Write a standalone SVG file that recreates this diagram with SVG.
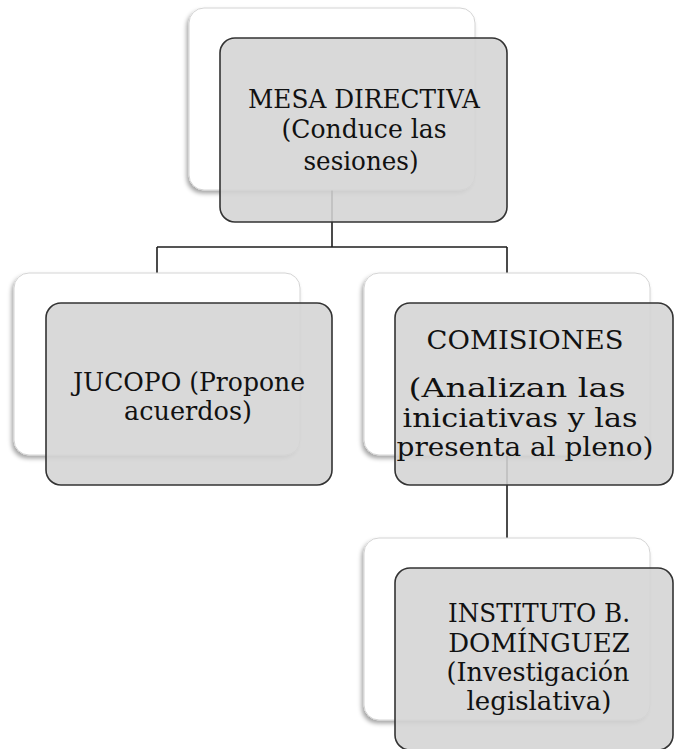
<svg xmlns="http://www.w3.org/2000/svg" width="674" height="749" viewBox="0 0 674 749">
<style>
.back{fill:#ffffff;stroke:#d4d4d4;stroke-width:1;filter:url(#sh)}
.front{fill:#d4d4d4;fill-opacity:0.88;stroke:#333333;stroke-width:1.6}
.t{font-family:"DejaVu Serif","Liberation Serif",serif;font-size:26px;fill:#111111;text-anchor:middle}
.c{fill:none;stroke:#1e1e1e;stroke-width:1.6}
</style>
<defs>
<filter id="sh" x="-10%" y="-10%" width="120%" height="125%">
<feDropShadow dx="-2" dy="3" stdDeviation="2" flood-color="#000" flood-opacity="0.35"/>
</filter>
</defs>
<rect width="674" height="749" fill="#ffffff"/>
<g id="connectors">
<path class="c" d="M332,190 V247 M157,247 H507 M157,247 V273 M507,247 V273"/>
<path class="c" d="M507,455 V538"/>
</g>
<g id="mesa">
<rect class="back" x="189" y="8" width="286" height="182" rx="15"/>
<rect class="front" x="220" y="38" width="287" height="184" rx="15"/>
<text class="t" x="364" y="108" textLength="232" lengthAdjust="spacingAndGlyphs">MESA DIRECTIVA</text>
<text class="t" x="364" y="138" textLength="165" lengthAdjust="spacingAndGlyphs">(Conduce las</text>
<text class="t" x="361" y="170" textLength="115" lengthAdjust="spacingAndGlyphs">sesiones)</text>
</g>
<g id="jucopo">
<rect class="back" x="14" y="273" width="286" height="182" rx="15"/>
<rect class="front" x="46" y="303" width="286" height="182" rx="15"/>
<text class="t" x="189" y="391" textLength="232" lengthAdjust="spacingAndGlyphs">JUCOPO (Propone</text>
<text class="t" x="188" y="420" textLength="128" lengthAdjust="spacingAndGlyphs">acuerdos)</text>
</g>
<g id="comisiones">
<rect class="back" x="364" y="273" width="286" height="182" rx="15"/>
<rect class="front" x="395" y="303" width="278" height="182" rx="15"/>
<text class="t" x="525" y="349" textLength="197" lengthAdjust="spacingAndGlyphs">COMISIONES</text>
<text class="t" x="517" y="397" textLength="217" lengthAdjust="spacingAndGlyphs">(Analizan las</text>
<text class="t" x="520" y="427" textLength="235" lengthAdjust="spacingAndGlyphs">iniciativas y las</text>
<text class="t" x="525" y="456" textLength="257" lengthAdjust="spacingAndGlyphs">presenta al pleno)</text>
</g>
<g id="instituto">
<rect class="back" x="364" y="538" width="286" height="182" rx="15"/>
<rect class="front" x="395" y="568" width="278" height="182" rx="15"/>
<text class="t" x="539" y="622" textLength="182" lengthAdjust="spacingAndGlyphs">INSTITUTO B.</text>
<text class="t" x="539" y="652">DOMÍNGUEZ</text>
<text class="t" x="538" y="681" textLength="183" lengthAdjust="spacingAndGlyphs">(Investigación</text>
<text class="t" x="539" y="710">legislativa)</text>
</g>
</svg>
